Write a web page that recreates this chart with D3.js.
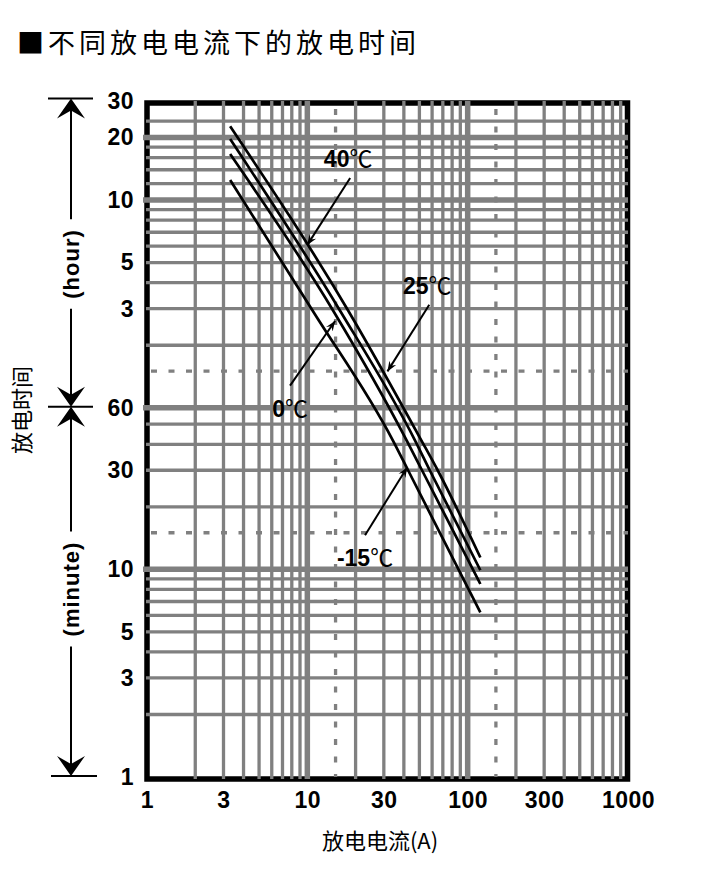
<!DOCTYPE html>
<html>
<head>
<meta charset="utf-8">
<script src="https://cdn.jsdelivr.net/npm/d3@7"></script>
<style>
  body { margin: 0; background: #fff; }
  svg { display: block; }
</style>
</head>
<body>
<div id="chart"></div>
<script>
// x: discharge current (A), y: discharge time (minutes)
const xTickValues = [1, 3, 10, 30, 100, 300, 1000];
const xGridValues = [2, 3, 4, 5, 6, 7, 8, 9, 20, 30, 40, 50, 60, 70, 80, 90,
  200, 300, 400, 500, 600, 700, 800, 900];
const xGridBold = [10, 100];
const xGridDashed = [15, 150];

const minuteTickValues = [1, 3, 5, 10, 30, 60];
const hourTickValues = [3, 5, 10, 20, 30];
const yGridMinutes = [2, 3, 4, 5, 6, 7, 8, 9, 20, 30, 40, 50];
const yGridHours = [2, 3, 4, 5, 6, 7, 8, 9, 12, 14, 16, 18, 24];
const yGridBoldMinutes = [10, 60, 600, 1200];
const yGridDashedMinutes = [15, 90];

// curves: [current A, time in minutes]
const curve40 = [[3.3, 1360], [18, 176], [51.5, 41.7], [65, 30], [120, 11.4]];
const curve25 = [[3.3, 1180], [16, 176], [47, 41.7], [58, 30], [120, 9.9]];
const curve0 = [[3.3, 1000], [14.5, 176], [41.7, 41.7], [51.9, 30], [120, 8.5]];
const curveM15 = [[3.3, 750], [10.8, 176], [34.2, 41.7], [42.5, 30], [120, 6.2]];

// arrow labels: tail -> tip in data units
const labelTemps = ["40", "25", "0", "-15"];
const labelTails = [[18.5, 766], [57.6, 188], [7.8, 76.7], [22.9, 14.6]];
const labelTips = [[10, 365], [31.6, 89.8], [14.9, 157], [42, 31]];
const labelAbove = [true, true, false, false];

const W = 722, H = 876;
const margin = { top: 101, right: 94, bottom: 99, left: 147 };
const width = W - margin.left - margin.right;
const height = H - margin.top - margin.bottom;

const root = d3.select("#chart").append("svg")
  .attr("width", W)
  .attr("height", H)
  .style("background", "#fff");

// title
root.append("text")
  .attr("x", 17)
  .attr("y", 53)
  .attr("font-family", "'Noto Sans CJK SC', sans-serif")
  .attr("font-size", 27)
  .attr("letter-spacing", 4)
  .attr("fill", "#000")
  .text("■不同放电电流下的放电时间");

const svg = root.append("g")
  .attr("transform", `translate(${margin.left},${margin.top})`);

const x = d3.scaleLog().domain([1, 1000]).range([0, width]);
const y = d3.scaleLog().domain([1, 1800]).range([height, 0]);

// frame
svg.append("rect")
  .attr("x", 0)
  .attr("y", 2)
  .attr("width", width - 0.5)
  .attr("height", height)
  .attr("fill", "none")
  .attr("stroke", "#000")
  .attr("stroke-width", 5.5);

const grid = svg.append("g").attr("stroke", "#808080");

// vertical grid
grid.selectAll(".vg").data(xGridValues).join("line")
  .attr("x1", d => x(d)).attr("x2", d => x(d))
  .attr("y1", 0).attr("y2", height + 2)
  .attr("stroke-width", 3.3);
grid.selectAll(".vgb").data(xGridBold).join("line")
  .attr("x1", d => x(d)).attr("x2", d => x(d))
  .attr("y1", 0).attr("y2", height + 2)
  .attr("stroke-width", 5.5);
grid.selectAll(".vgd").data(xGridDashed).join("line")
  .attr("x1", d => x(d)).attr("x2", d => x(d))
  .attr("y1", 8).attr("y2", height)
  .attr("stroke-width", 3.3)
  .attr("stroke-dasharray", "6,11.5");

// horizontal grid (everything in minutes)
const yGridAll = yGridMinutes.concat(yGridHours.map(h => h * 60));
grid.selectAll(".hg").data(yGridAll).join("line")
  .attr("x1", -1).attr("x2", width)
  .attr("y1", d => y(d)).attr("y2", d => y(d))
  .attr("stroke-width", 3.3);
grid.selectAll(".hgb").data(yGridBoldMinutes).join("line")
  .attr("x1", -4).attr("x2", width)
  .attr("y1", d => y(d)).attr("y2", d => y(d))
  .attr("stroke-width", 5.5);
grid.selectAll(".hgd").data(yGridDashedMinutes).join("line")
  .attr("x1", 4).attr("x2", width)
  .attr("y1", d => y(d)).attr("y2", d => y(d))
  .attr("stroke-width", 3.3)
  .attr("stroke-dasharray", "6,11.5");

// axes
const tickFont = (g) => {
  g.select(".domain").remove();
  g.selectAll("text")
    .attr("font-family", "'Liberation Sans', Arial, sans-serif")
    .attr("font-weight", "bold")
    .attr("font-size", 23)
    .attr("letter-spacing", 0.5)
    .attr("fill", "#000");
};

svg.append("g")
  .attr("transform", `translate(0,${height})`)
  .call(d3.axisBottom(x).tickValues(xTickValues).tickFormat(d3.format("d"))
    .tickSize(0).tickPadding(15))
  .call(tickFont);

svg.append("g")
  .call(d3.axisLeft(y).tickValues(minuteTickValues).tickFormat(d3.format("d"))
    .tickSize(0).tickPadding(13))
  .call(tickFont);

svg.append("g")
  .call(d3.axisLeft(y).tickValues(hourTickValues.map(h => h * 60))
    .tickFormat(d => d / 60).tickSize(0).tickPadding(13))
  .call(tickFont);

// curves
const line = d3.line()
  .x(d => x(d[0]))
  .y(d => y(d[1]))
  .curve(d3.curveMonotoneX);

svg.selectAll(".curve").data([curve40, curve25, curve0, curveM15]).join("path")
  .attr("d", line)
  .attr("fill", "none")
  .attr("stroke", "#000")
  .attr("stroke-width", 2.7);

// arrowhead marker
root.append("defs").append("marker")
  .attr("id", "tip")
  .attr("viewBox", "-10 -5 12 10")
  .attr("refX", 0).attr("refY", 0)
  .attr("markerWidth", 12).attr("markerHeight", 10)
  .attr("markerUnits", "userSpaceOnUse")
  .attr("orient", "auto")
  .append("path")
  .attr("d", "M0,0 L-10,-4 L-6.5,0 L-10,4 Z")
  .attr("fill", "#000");

labelTemps.forEach((t, i) => {
  const [ax, ay] = labelTails[i];
  const [bx, by] = labelTips[i];
  svg.append("line")
    .attr("x1", x(ax)).attr("y1", y(ay))
    .attr("x2", x(bx)).attr("y2", y(by))
    .attr("stroke", "#000")
    .attr("stroke-width", 2)
    .attr("marker-end", "url(#tip)");
  const txt = svg.append("text")
    .attr("x", x(ax) + (labelAbove[i] ? -2 : 0))
    .attr("y", y(ay) + (labelAbove[i] ? -11 : 31))
    .attr("text-anchor", "middle")
    .attr("fill", "#000");
  txt.append("tspan")
    .attr("font-family", "'Liberation Sans', Arial, sans-serif")
    .attr("font-weight", "bold")
    .attr("font-size", 23)
    .text(t);
  txt.append("tspan")
    .attr("font-family", "'Noto Sans CJK SC', sans-serif")
    .attr("font-size", 23)
    .text("℃");
});

// left side hour / minute range arrows
const side = root.append("g").attr("stroke", "#000").attr("fill", "#000");
const ax0 = 71;
const yTop = y(1800) + margin.top - 2.5;
const yMid = y(60) + margin.top - 1;
const yBot = y(1) + margin.top - 1;

const head = (cx, cy, dir) =>
  `M${cx},${cy} L${cx + 14},${cy + dir * 20} L${cx},${cy + dir * 12} L${cx - 14},${cy + dir * 20} Z`;

side.append("line").attr("x1", 48).attr("x2", 93).attr("y1", yTop).attr("y2", yTop).attr("stroke-width", 2);
side.append("line").attr("x1", 48).attr("x2", 93).attr("y1", yMid).attr("y2", yMid).attr("stroke-width", 2);
side.append("line").attr("x1", 51).attr("x2", 97).attr("y1", yBot).attr("y2", yBot).attr("stroke-width", 2);

side.append("path").attr("d", head(ax0, yTop, 1)).attr("stroke", "none");
side.append("path").attr("d", head(ax0, yMid, -1)).attr("stroke", "none");
side.append("path").attr("d", head(ax0, yMid, 1)).attr("stroke", "none");
side.append("path").attr("d", head(ax0, yBot, -1)).attr("stroke", "none");

const sideLabel = (label, cy) => {
  const t = root.append("text")
    .attr("transform", `translate(${ax0 + 8},${cy}) rotate(-90)`)
    .attr("text-anchor", "middle")
    .attr("font-family", "'Liberation Sans', Arial, sans-serif")
    .attr("font-weight", "bold")
    .attr("font-size", 22)
    .attr("letter-spacing", 1)
    .attr("fill", "#000")
    .text(label);
  return t.node().getComputedTextLength() / 2 + 10;
};

const hourMid = 264, minuteMid = 589;
const gapH = sideLabel("(hour)", hourMid);
const gapM = sideLabel("(minute)", minuteMid);

side.append("line").attr("x1", ax0).attr("x2", ax0).attr("y1", yTop + 10).attr("y2", hourMid - gapH).attr("stroke-width", 2);
side.append("line").attr("x1", ax0).attr("x2", ax0).attr("y1", hourMid + gapH).attr("y2", yMid - 10).attr("stroke-width", 2);
side.append("line").attr("x1", ax0).attr("x2", ax0).attr("y1", yMid + 10).attr("y2", minuteMid - gapM).attr("stroke-width", 2);
side.append("line").attr("x1", ax0).attr("x2", ax0).attr("y1", minuteMid + gapM).attr("y2", yBot - 10).attr("stroke-width", 2);

// axis titles
root.append("text")
  .attr("transform", `translate(30,410) rotate(-90)`)
  .attr("text-anchor", "middle")
  .attr("font-family", "'Noto Sans CJK SC', sans-serif")
  .attr("font-size", 22)
  .attr("fill", "#000")
  .text("放电时间");

root.append("text")
  .attr("x", 380)
  .attr("y", 849)
  .attr("text-anchor", "middle")
  .attr("font-family", "'Noto Sans CJK SC', sans-serif")
  .attr("font-size", 22)
  .attr("fill", "#000")
  .text("放电电流(A)");
</script>
</body>
</html>
